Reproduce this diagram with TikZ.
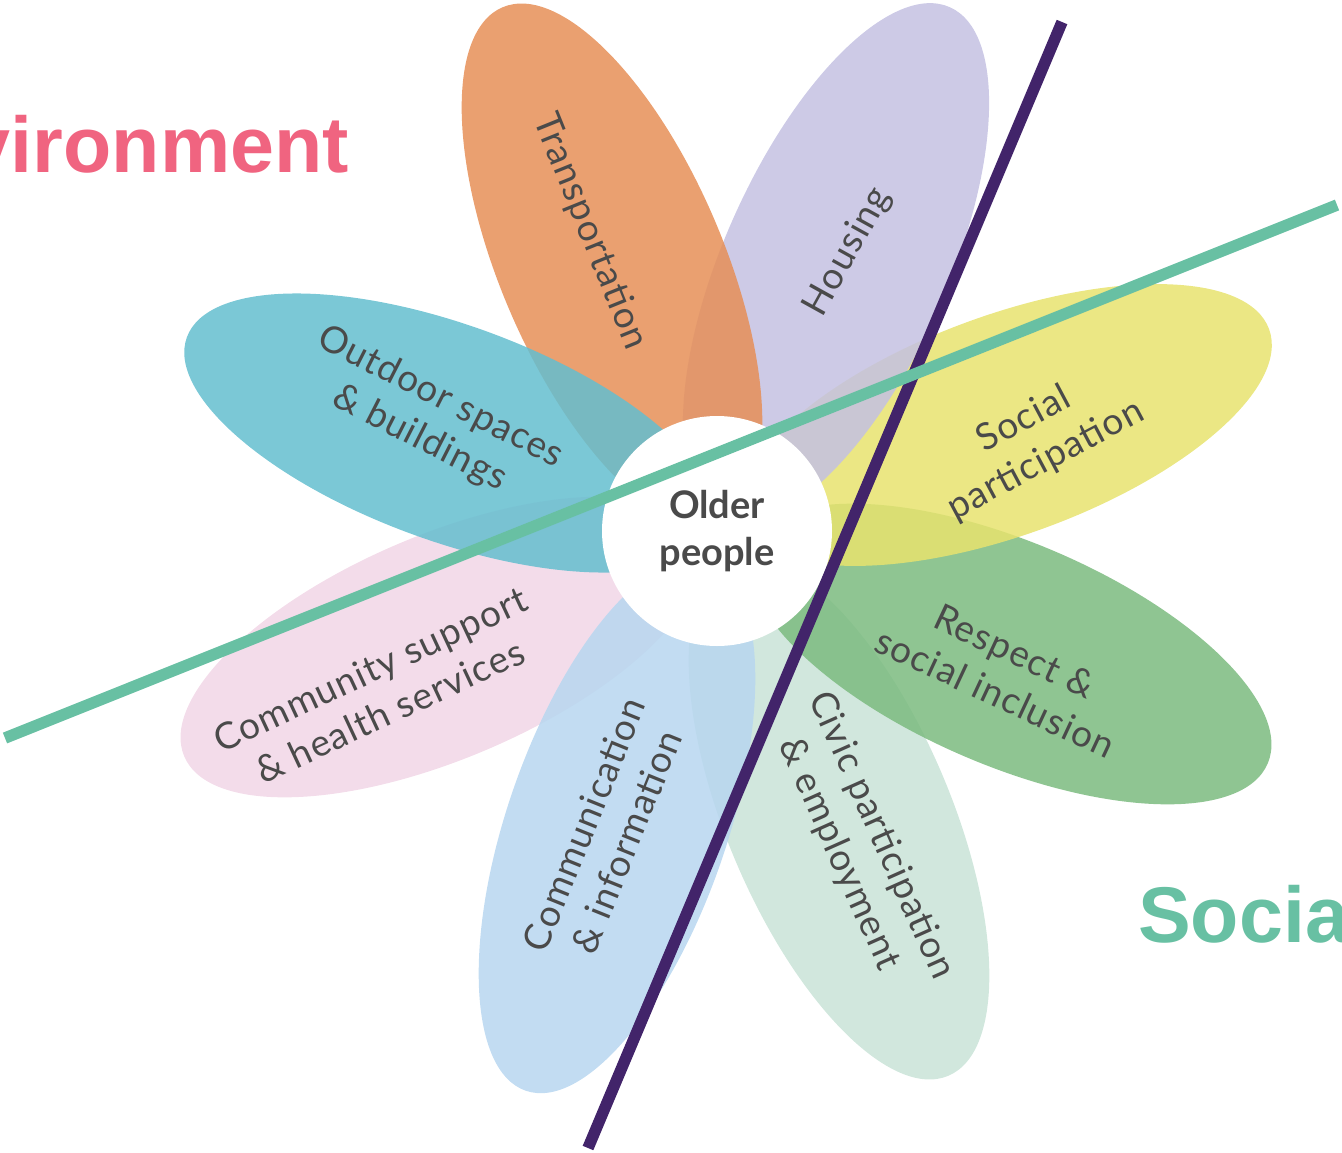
\documentclass[tikz,border=0pt]{standalone}
\usepackage{fontspec}
\setmainfont{Lato}
\newfontfamily\titlefont{Liberation Sans}
\newfontfamily\olderfont{Lato}
\newfontfamily\lblfont[LetterSpace=3]{Lato}
\definecolor{cTrans}{RGB}{230,143,87}
\definecolor{cHouse}{RGB}{196,193,226}
\definecolor{cSocP}{RGB}{231,227,110}
\definecolor{cResp}{RGB}{123,187,127}
\definecolor{cCivic}{RGB}{201,227,215}
\definecolor{cComm}{RGB}{183,214,240}
\definecolor{cCommu}{RGB}{241,214,230}
\definecolor{cOut}{RGB}{100,190,207}
\definecolor{cPurple}{RGB}{66,36,106}
\definecolor{cTeal}{RGB}{104,192,163}
\definecolor{cPink}{RGB}{240,100,128}
\definecolor{labelgray}{RGB}{74,74,74}
\begin{document}
\begin{tikzpicture}[x=1pt,y=1pt,
  petal/.style={opacity=0.85},
  lbl/.style={text=labelgray, font=\lblfont\fontsize{37}{46}\selectfont, align=center, inner sep=0pt},
  divider/.style={line width=11.5pt},
  bigtitle/.style={font=\titlefont\bfseries\fontsize{79}{90}\selectfont, inner sep=0pt}]
\useasboundingbox (0,0) rectangle (1342,-1152);
\clip (0,0) rectangle (1342,-1152);
% petals
\fill[cCivic, petal, rotate around={-67:(839,-818)}] (839,-818) ellipse [x radius=280pt, y radius=112pt];
\fill[cResp, petal, rotate around={-23:(1010,-654)}] (1010,-654) ellipse [x radius=280pt, y radius=112pt];
\fill[cSocP, petal, rotate around={20:(1006,-425)}] (1006,-425) ellipse [x radius=280pt, y radius=110pt];
\fill[cHouse, petal, rotate around={66:(836,-263)}] (836,-263) ellipse [x radius=280pt, y radius=112pt];
\fill[cTrans, petal, rotate around={113:(612,-265)}] (612,-265) ellipse [x radius=280pt, y radius=112pt];
\fill[cCommu, petal, rotate around={-157:(442,-647)}] (442,-647) ellipse [x radius=280pt, y radius=112pt];
\fill[cOut, petal, rotate around={160:(450,-433)}] (450,-433) ellipse [x radius=280pt, y radius=108pt];
\fill[cComm, petal, rotate around={-109:(617,-826)}] (617,-826) ellipse [x radius=280pt, y radius=110pt];
% centre
\node[circle, fill=white, minimum size=230pt, inner sep=0pt, text=labelgray,
      font=\olderfont\bfseries\fontsize{38}{47}\selectfont, align=center] (older) at (717,-531) {Older\\people};
% dividers
\coordinate (purpleTop) at (1062,-22);
\coordinate (purpleBot) at (588,-1148);
\coordinate (tealRight) at (1337,-205);
\coordinate (tealLeft) at (5,-738);
\draw[divider, cPurple] (purpleTop) -- (purpleBot);
\draw[divider, cTeal] (tealRight) -- (tealLeft);
% labels
\node[lbl, rotate=-68] (transport) at (590,-232) {Transportation};
\node[lbl, rotate=61] (housing) at (848,-252) {Housing};
\node[lbl, rotate=28] (socpart) at (1035,-440) {Social\\participation};
\node[lbl, rotate=-25] (respect) at (1005,-672) {Respect \&\\social inclusion};
\node[lbl, rotate=-66] (civic) at (860,-845) {Civic participation\\\& employment};
\node[lbl, rotate=68] (communic) at (605,-833) {Communication\\\& information};
\node[lbl, rotate=25] (community) at (380,-690) {Community support\\\& health services};
\node[lbl, rotate=-27] (outdoor) at (430,-418) {Outdoor spaces\\\& buildings};
% titles
\node[bigtitle, text=cPink, anchor=base east] (envtitle) at (349,-172) {Environment};
\node[bigtitle, text=cTeal, anchor=base west] (soctitle) at (1138,-942) {Social};
\end{tikzpicture}
\end{document}
